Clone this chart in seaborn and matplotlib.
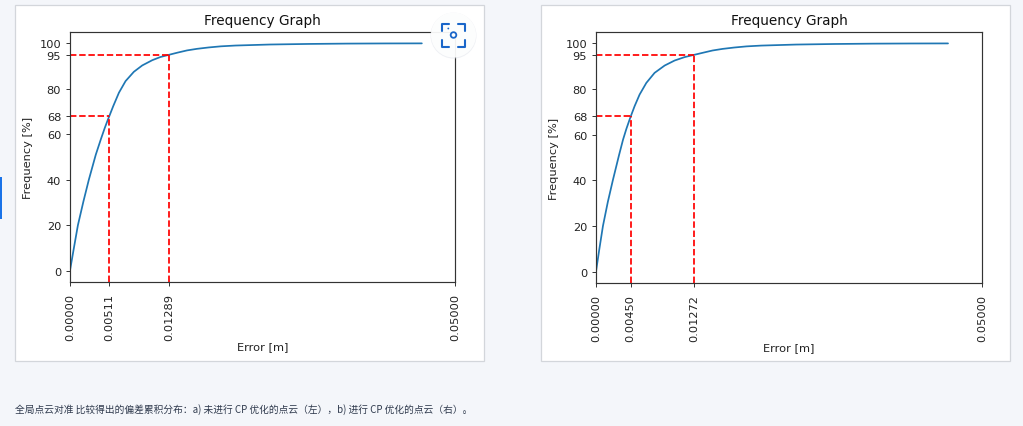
import matplotlib
matplotlib.use("Agg")
import pandas as pd
import matplotlib.pyplot as plt
from matplotlib.patches import Rectangle, Circle
import seaborn as sns

# Valores: frequência acumulada [%] x erro [m]
freq_left = [0.0, 9.8, 20.0, 30.5, 40.0, 51.0, 57.7, 62.8, 66.5, 68.0, 72.4, 78.3, 83.4,
             87.5, 90.3, 92.6, 94.0, 95.0, 95.95, 96.9, 97.6, 98.2, 98.7, 99.05, 99.5,
             99.75, 99.9, 99.97, 100.0]
err_left = [0.0, 0.0005, 0.00103, 0.00175, 0.00245, 0.00335, 0.00400, 0.00452, 0.00493,
            0.00511, 0.00562, 0.00636, 0.00722, 0.0083, 0.00939, 0.01069, 0.01175, 0.01289,
            0.0140, 0.0152, 0.0165, 0.0180, 0.0196, 0.0215, 0.0260, 0.0310, 0.0360, 0.0410,
            0.0457]
freq_right = [0.0, 9.8, 20.0, 30.5, 40.0, 51.0, 57.8, 62.5, 66.6, 68.0, 72.5, 77.6, 82.7,
              87.1, 90.3, 92.5, 94.0, 95.0, 95.95, 96.9, 97.6, 98.2, 98.7, 99.05, 99.5,
              99.75, 99.9, 99.97, 100.0]
err_right = [0.0, 0.00043, 0.0009, 0.00153, 0.00218, 0.00298, 0.0035, 0.00393, 0.00435,
             0.0045, 0.0050, 0.00565, 0.00652, 0.00759, 0.00889, 0.01018, 0.01148, 0.01272,
             0.0139, 0.0151, 0.0164, 0.0179, 0.0195, 0.0214, 0.0259, 0.0309, 0.0359, 0.0409,
             0.0456]
marks_left = [0.00511, 0.01289]
marks_right = [0.00450, 0.01272]
mark_levels = [68, 95]
y_ticks = [0, 20, 40, 60, 68, 80, 95, 100]
x_max = 0.05
caption = "全局点云对准 比较得出的偏差累积分布：a) 未进行 CP 优化的点云（左），b) 进行 CP 优化的点云（右）。"

sns.set_style("ticks")
plt.rcParams['font.family'] = ['DejaVu Sans']
plt.rcParams.update({
    'axes.edgecolor': '#333333',
    'axes.linewidth': 0.85,
    'xtick.color': '#333333',
    'ytick.color': '#333333',
    'xtick.labelcolor': '#222222',
    'ytick.labelcolor': '#222222',
    'xtick.labelsize': 8.2,
    'ytick.labelsize': 8.2,
    'axes.labelsize': 8.2,
    'xtick.major.size': 2.8,
    'ytick.major.size': 2.8,
    'xtick.major.width': 0.7,
    'ytick.major.width': 0.7,
    'xtick.major.pad': 5,
    'ytick.major.pad': 3.5,
})

page_bg = '#f4f6fa'
fig = plt.figure(figsize=(10.23, 4.27), dpi=100, facecolor=page_bg)

# molduras brancas das duas imagens
for x0 in [15, 541]:
    fig.add_artist(Rectangle((x0 / 1023, 1 - 362 / 427), 469 / 1023, 356 / 427,
                             transform=fig.transFigure, facecolor='white',
                             edgecolor='#d3d6db', lw=0.9, zorder=0))

# barra azul à esquerda
fig.add_artist(Rectangle((0, 1 - 220 / 427), 2 / 1023, 42 / 427, transform=fig.transFigure,
                         facecolor='#1a73e8', edgecolor='none', zorder=0))

panels = [
    ([0.0684, 0.3372, 0.3763, 0.5855], err_left, freq_left, marks_left),
    ([0.5826, 0.3349, 0.3773, 0.5878], err_right, freq_right, marks_right),
]

for rect, err, freq, marks in panels:
    ax = fig.add_axes(rect)
    ax.set_facecolor('white')
    df = pd.DataFrame({'error': err, 'freq': freq})
    sns.lineplot(data=df, x='error', y='freq', ax=ax, color='#1f77b4', lw=1.25)
    ax.set_xlim(0, x_max)
    ax.set_ylim(-5, 105)
    y_bottom = ax.get_ylim()[0]
    for xm, ym in zip(marks, mark_levels):
        ax.vlines(xm, y_bottom, ym, colors='red', linestyles='--', lw=1.25)
        ax.hlines(ym, 0, xm, colors='red', linestyles='--', lw=1.25)
    xt = [0.0] + marks + [x_max]
    ax.set_xticks(xt)
    ax.set_xticklabels([f"{v:.5f}" for v in xt], rotation=90)
    ax.set_yticks(y_ticks)
    ax.set_title('Frequency Graph', fontsize=9.8, pad=5.5, color='#111111')
    ax.set_xlabel('Error [m]', labelpad=1, color='#222222')
    ax.set_ylabel('Frequency [%]', labelpad=4.5, color='#222222')
    for s in ax.spines.values():
        s.set_visible(True)

# ícone de zoom sobre a primeira imagem
ax_icon = fig.add_axes([(453.5 - 25) / 1023, 1 - (36 + 25) / 427, 50 / 1023, 50 / 427])
ax_icon.set_xlim(0, 50)
ax_icon.set_ylim(50, 0)
ax_icon.axis('off')
ax_icon.add_patch(Circle((25, 25.6), 23, facecolor='#dfe3ea', edgecolor='none', alpha=0.5))
ax_icon.add_patch(Circle((25, 25), 22.5, facecolor='white', edgecolor='none', alpha=0.88))
blue = '#1a66c9'
s0, s1, arm = 13.5, 36.5, 7
for cx, cy, dx, dy in [(s0, s0, 1, 1), (s1, s0, -1, 1), (s0, s1, 1, -1), (s1, s1, -1, -1)]:
    ax_icon.plot([cx + dx * arm, cx, cx], [cy, cy, cy + dy * arm], color=blue, lw=1.5,
                 solid_capstyle='round', solid_joinstyle='round')
ax_icon.add_patch(Circle((25, 25), 2.8, facecolor='white', edgecolor=blue, lw=1.3))
ax_icon.add_patch(Circle((19.8, 18.5), 0.9, facecolor=blue, edgecolor='none'))

fig.text(15 / 1023, 1 - 410 / 427, caption, fontsize=7.0, va='center', ha='left',
         color='#2f3a4d', family=['Noto Sans CJK SC', 'DejaVu Sans'])

fig.savefig('out.png', dpi=100, facecolor=page_bg)
